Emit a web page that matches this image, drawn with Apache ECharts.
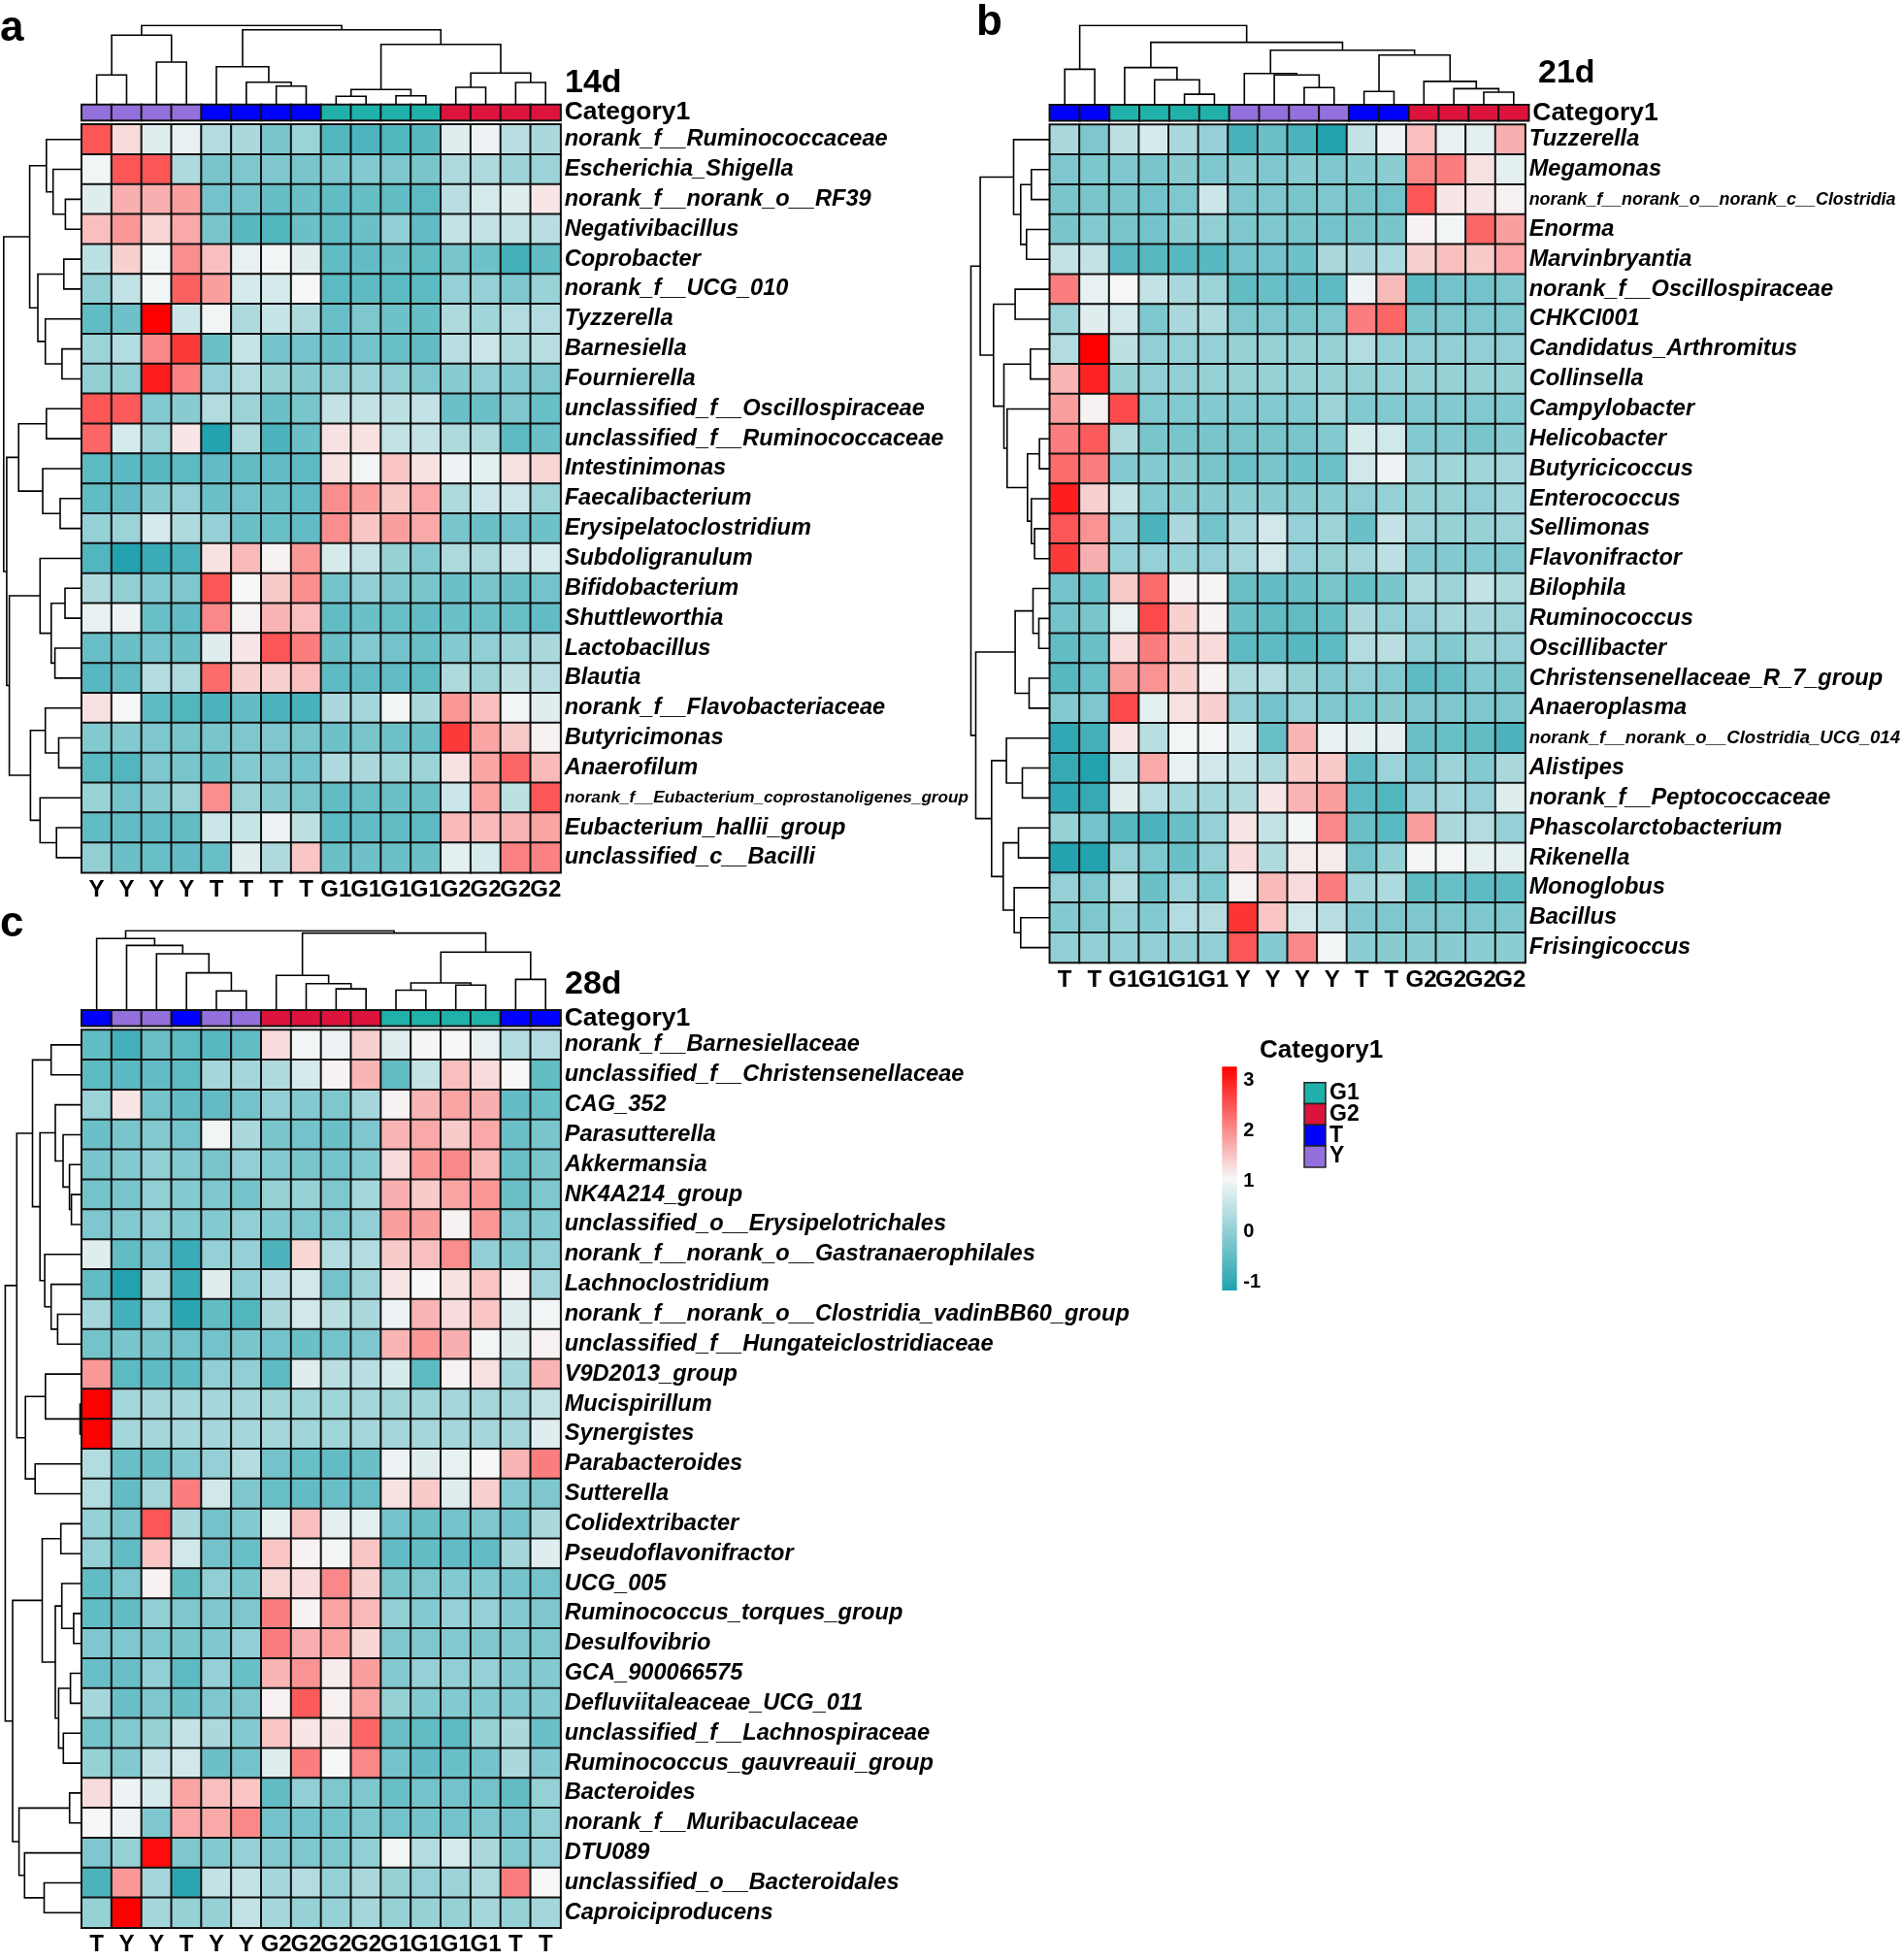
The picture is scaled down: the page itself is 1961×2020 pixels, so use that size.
<!DOCTYPE html>
<html><head><meta charset="utf-8">
<script src="https://cdn.jsdelivr.net/npm/echarts/dist/echarts.min.js"></script>
<style>html,body{margin:0;padding:0;background:#fff}#chart{width:1961px;height:2020px}</style>
</head><body><div id="chart"></div>
<script>
// ================= DATA =================
const CATEGORY_LEVELS = ['G1', 'G2', 'T', 'Y'];
const LEGEND_TICKS = [-1, 0, 1, 2, 3];
const VALUE_MIN = -1.17, VALUE_MAX = 3.27;

// ---- panel a (14d)
const COLS_A = ['Y','Y','Y','Y','T','T','T','T','G1','G1','G1','G1','G2','G2','G2','G2'];
const ROWS_A = ['norank_f__Ruminococcaceae','Escherichia_Shigella','norank_f__norank_o__RF39','Negativibacillus','Coprobacter','norank_f__UCG_010','Tyzzerella','Barnesiella','Fournierella','unclassified_f__Oscillospiraceae','unclassified_f__Ruminococcaceae','Intestinimonas','Faecalibacterium','Erysipelatoclostridium','Subdoligranulum','Bifidobacterium','Shuttleworthia','Lactobacillus','Blautia','norank_f__Flavobacteriaceae','Butyricimonas','Anaerofilum','norank_f__Eubacterium_coprostanoligenes_group','Eubacterium_hallii_group','unclassified_c__Bacilli'];
const VALS_A = [
[2.5,1.3,0.8,0.9,0.35,0.25,-0.25,0.1,-0.65,-0.7,-0.65,-0.6,0.8,0.95,0.4,0.25],
[1.0,2.5,2.5,0.3,-0.25,-0.2,-0.2,-0.25,-0.22,-0.15,-0.2,-0.25,0.3,0.3,0.1,0.1],
[0.8,1.7,1.7,1.85,-0.3,-0.3,-0.45,-0.4,-0.5,-0.45,-0.5,-0.55,0.4,0.7,0.8,1.2],
[1.55,1.9,1.35,1.75,-0.25,-0.6,-0.65,-0.4,-0.5,-0.4,0,-0.48,0.5,0.5,0.5,0.4],
[0.45,1.4,1.0,2.0,1.55,0.9,1.0,0.8,-0.5,-0.48,-0.4,-0.5,-0.25,-0.35,-0.8,-0.5],
[0,0.5,1.0,2.4,1.85,0.7,0.7,1.05,-0.55,-0.53,-0.55,-0.53,0.03,0.03,-0.2,0.08],
[-0.5,-0.35,3.27,0.6,1.0,0.3,0.55,0.3,-0.42,-0.2,-0.35,-0.45,0.3,0.15,0.35,0.35],
[0.1,0.35,2.05,2.75,-0.4,0.55,-0.3,-0.3,-0.42,-0.3,-0.42,-0.48,0.4,0.6,0.3,0.4],
[0,0,3.0,2.1,0.03,0.35,0.05,-0.1,0,0.1,0,-0.2,-0.1,0,-0.15,-0.2],
[2.5,2.45,-0.15,-0.1,0.35,0.1,-0.4,-0.25,0.5,0.5,0.45,0.5,-0.4,-0.4,-0.2,-0.42],
[2.35,0.7,0.1,1.2,-1.15,0.3,-0.72,-0.4,1.25,1.25,0.5,0.5,0.3,0.3,-0.55,-0.4],
[-0.55,-0.57,-0.6,-0.55,-0.48,-0.5,-0.48,-0.53,1.25,1.0,1.5,1.25,0.95,0.85,1.25,1.35],
[-0.5,-0.48,-0.1,0.03,-0.4,-0.3,-0.4,-0.48,2.0,1.85,1.45,1.75,0.3,0.6,0.6,0.1],
[0.03,0.1,0.7,0.3,0.03,-0.4,-0.42,-0.48,2.0,1.5,1.85,1.75,-0.25,-0.4,-0.3,-0.35],
[-0.65,-1.15,-0.9,-0.72,1.25,1.6,1.1,1.9,0.7,0.5,0.05,-0.15,0.3,0.3,0.6,0.7],
[0.3,0,-0.15,-0.2,2.5,1.05,1.45,2.0,-0.3,0,-0.2,-0.25,-0.4,-0.25,-0.4,-0.3],
[0.9,0.95,-0.42,-0.48,2.05,1.1,1.65,1.55,-0.5,-0.4,-0.42,-0.48,-0.4,-0.35,-0.42,-0.48],
[-0.42,-0.4,-0.3,-0.4,0.8,1.2,2.5,2.15,-0.4,-0.15,-0.3,-0.4,-0.15,0,0.1,0.25],
[-0.6,-0.5,0.35,0.3,2.3,1.4,1.4,1.55,-0.53,-0.48,-0.48,-0.53,0.3,0.1,0.45,0.4],
[1.25,1.05,-0.53,-0.65,-0.72,-0.48,-0.72,-0.75,0.25,0.2,1.0,0.25,1.9,1.55,1.0,0.8],
[-0.15,-0.15,-0.2,-0.25,-0.25,-0.2,-0.2,-0.25,-0.35,-0.25,-0.35,-0.4,2.75,1.8,1.45,1.1],
[-0.55,-0.65,-0.2,-0.25,-0.4,-0.15,-0.2,-0.3,0.3,0.25,0.15,0.1,1.25,1.8,2.35,1.6],
[0.08,-0.3,-0.1,0.1,2.0,0.1,-0.1,-0.25,-0.5,-0.42,-0.4,-0.4,0.6,1.8,0.45,2.5],
[-0.5,-0.48,-0.48,-0.5,0.6,0.55,0.95,0.45,-0.53,-0.48,-0.5,-0.53,1.6,1.6,1.65,1.8],
[0,-0.4,-0.42,-0.48,-0.42,0.8,0.3,1.5,-0.4,-0.35,-0.4,-0.4,0.85,0.7,2.1,2.1]
];
// dendrograms: [left, right, height]; leaves are indices
const TREE_A_COLS = [[[0,1,30.7],[2,3,44],71.7],[[4,[5,[6,7,19.3],23.3],39.3],[[[8,9,8.7],[10,11,9.3],15.7],[[12,13,18],[14,15,23],32.7],62.3],77.3],81.7];
const TREE_A_ROWS = [
 [[0,[1,[2,3,16.8],29.5],36.4],[[4,5,18.4],[6,[7,8,20.3],37.5],45.2],53.6],
 [[[9,10,36.4],[11,[12,13,22.2],40.2],65],[[14,[[15,16,17.2],[17,18,27.6],31.4],42.9],[[19,[20,21,23.7],37.5],[22,[23,24,26],42.9],52.8],74.6],77.3],
 80.4];

// ---- panel b (21d)
const COLS_B = ['T','T','G1','G1','G1','G1','Y','Y','Y','Y','T','T','G2','G2','G2','G2'];
const ROWS_B = ['Tuzzerella','Megamonas','norank_f__norank_o__norank_c__Clostridia','Enorma','Marvinbryantia','norank_f__Oscillospiraceae','CHKCI001','Candidatus_Arthromitus','Collinsella','Campylobacter','Helicobacter','Butyricicoccus','Enterococcus','Sellimonas','Flavonifractor','Bilophila','Ruminococcus','Oscillibacter','Christensenellaceae_R_7_group','Anaeroplasma','norank_f__norank_o__Clostridia_UCG_014','Alistipes','norank_f__Peptococcaceae','Phascolarctobacterium','Rikenella','Monoglobus','Bacillus','Frisingicoccus'];
const VALS_B = [
[0.25,-0.2,0.45,0.7,0.25,0.03,-0.75,-0.4,-0.72,-1.15,0.5,0.95,1.55,0.9,0.85,1.7],
[-0.2,-0.22,-0.2,-0.25,-0.1,-0.2,-0.1,-0.2,-0.1,-0.2,-0.1,-0.05,2.05,2.15,1.25,0.85],
[-0.25,-0.25,-0.25,-0.3,-0.2,0.6,-0.2,-0.2,-0.25,-0.2,-0.25,-0.3,2.5,1.2,1.2,1.1],
[-0.25,-0.15,-0.25,-0.3,-0.05,0,-0.2,-0.2,-0.25,-0.3,-0.25,-0.25,1.1,1.0,2.35,1.85],
[0.5,0.5,-0.57,-0.6,-0.6,-0.6,-0.3,-0.3,-0.35,0.25,0.25,0.28,1.4,1.55,1.45,1.75],
[2.15,0.9,1.05,0.5,0.25,0.1,-0.5,-0.42,-0.48,-0.53,0.95,1.6,-0.53,-0.3,-0.3,-0.2],
[0.1,0.8,0.65,-0.2,0.25,0.3,-0.2,-0.2,-0.25,-0.2,2.15,2.35,-0.25,-0.2,-0.2,-0.2],
[0.35,3.27,0.45,0,0.03,0.03,0.05,0.05,0.05,0.05,0.35,0.05,0,0,0,0],
[1.65,2.95,0.05,0,0,0.05,0.05,0.05,0.05,0.05,0.05,0.05,0.05,0.05,0.05,0.05],
[1.85,1.1,2.6,-0.15,-0.15,-0.15,-0.15,-0.15,-0.15,0.1,-0.15,-0.15,-0.15,-0.15,-0.15,-0.15],
[2.15,2.45,0.3,-0.25,-0.25,-0.25,-0.25,-0.25,-0.25,-0.15,0.7,0.65,-0.15,-0.15,-0.25,-0.1],
[2.3,2.15,-0.15,-0.15,-0.1,-0.25,-0.35,-0.25,-0.35,-0.35,0.65,0.95,0.1,0.15,0.15,0.2],
[3.0,1.4,0.5,-0.15,-0.1,-0.1,-0.05,-0.1,-0.1,-0.05,0,0.05,0.05,0.05,0,0.15],
[2.5,1.95,0.03,-0.72,0.25,-0.3,0.2,0.65,0.03,0.1,-0.4,0.5,0.1,0.05,0.05,0.1],
[2.75,1.7,0.03,0.03,0.05,0.03,0.2,0.65,0.03,0.05,0.2,0.45,-0.15,-0.15,-0.15,-0.2],
[-0.3,-0.42,1.45,2.3,1.1,1.08,-0.4,-0.48,-0.4,-0.25,-0.42,-0.25,0.3,0.1,0.5,0.3],
[-0.3,-0.25,0.9,2.6,1.4,1.1,-0.4,-0.5,-0.5,-0.42,0.25,0.03,0.03,0.2,0.2,0.1],
[-0.5,-0.4,1.3,2.15,1.4,1.3,-0.53,-0.53,-0.6,-0.53,0.35,0.4,0,-0.15,0.1,0.03],
[-0.6,-0.42,1.85,1.95,1.4,1.1,0.3,0.35,0.05,-0.15,0,-0.15,-0.53,-0.42,-0.15,-0.25],
[-0.15,-0.2,2.6,0.85,1.25,1.4,0,-0.3,0,-0.2,-0.2,-0.1,-0.2,-0.2,-0.2,-0.2],
[-1.0,-0.8,1.2,0.4,1.0,1.0,0.7,-0.42,1.65,0.9,0.85,0.85,-0.4,-0.42,-0.5,-0.72],
[-0.95,-1.15,0.5,1.75,0.9,0.65,0.5,0.3,1.45,1.45,-0.48,0.1,-0.3,0.1,-0.15,0.25],
[-1.0,-0.95,0.8,0.4,0.2,0.2,0.3,1.2,1.65,1.85,-0.53,-0.65,0.03,0.2,0.03,0.8],
[0.05,-0.3,-0.6,-0.72,-0.42,0.03,1.2,0.5,1.0,2.05,-0.4,-0.57,1.85,0.25,0.35,0.03],
[-1.15,-1.15,0.03,-0.2,-0.4,0.03,1.3,0.3,1.15,1.15,-0.3,0.05,1.02,1.0,0.85,0.85],
[0.03,-0.2,0.35,-0.4,0.1,-0.2,1.1,1.6,1.3,2.15,0.2,0.3,-0.5,-0.42,-0.53,-0.53],
[-0.15,-0.2,0.03,-0.15,0.35,0.35,2.8,1.5,0.65,0.4,-0.15,-0.2,-0.2,-0.2,-0.2,-0.2],
[0,0,0,0,0,0,2.5,-0.15,2.05,1.0,-0.05,-0.1,-0.1,-0.1,-0.05,-0.05]
];
const TREE_B_COLS = [[0,1,36.8],[[2,[3,[4,5,11.1],26],38.6],[[6,[7,[8,9,17.9],31],32.5],[[10,11,13.9],[12,[13,[14,15,13.2],16.8],24.3],51.4],56.4],64.6],82.1];
const TREE_B_ROWS = [
 [[0,[[1,2,19],[3,4,24],30],37.3],[[5,6,35.7],[[7,8,20],[9,[[10,11,10.7],[12,[13,14,15.7],19],23],44],47.3],58],71.7],
 [[[15,[16,17,11.3],17.3],[18,19,21.3],35.7],[[20,[21,22,28.3],44.7],[[23,24,32.3],[25,[26,27,30],36.7],48],60],76.3],
 81.3];

// ---- panel c (28d)
const COLS_C = ['T','Y','Y','T','Y','Y','G2','G2','G2','G2','G1','G1','G1','G1','T','T'];
const ROWS_C = ['norank_f__Barnesiellaceae','unclassified_f__Christensenellaceae','CAG_352','Parasutterella','Akkermansia','NK4A214_group','unclassified_o__Erysipelotrichales','norank_f__norank_o__Gastranaerophilales','Lachnoclostridium','norank_f__norank_o__Clostridia_vadinBB60_group','unclassified_f__Hungateiclostridiaceae','V9D2013_group','Mucispirillum','Synergistes','Parabacteroides','Sutterella','Colidextribacter','Pseudoflavonifractor','UCG_005','Ruminococcus_torques_group','Desulfovibrio','GCA_900066575','Defluviitaleaceae_UCG_011','unclassified_f__Lachnospiraceae','Ruminococcus_gauvreauii_group','Bacteroides','norank_f__Muribaculaceae','DTU089','unclassified_o__Bacteroidales','Caproiciproducens'];
const VALS_C = [
[-0.5,-0.8,-0.4,-0.55,-0.6,-0.5,1.3,1.0,0.95,1.4,0.8,1.02,1.05,0.9,0.35,0.35],
[-0.55,-0.57,-0.48,-0.55,0.2,0.2,0.3,0.7,1.1,1.65,-0.5,0.5,1.55,1.3,1.05,-0.5],
[0.1,1.2,-0.3,-0.48,-0.48,-0.3,0,-0.15,-0.2,0.2,1.1,1.65,1.8,1.7,-0.48,-0.42],
[-0.4,-0.25,-0.15,-0.3,1.0,0.25,-0.25,-0.3,-0.4,-0.2,1.65,1.75,1.45,1.75,-0.4,-0.25],
[-0.25,-0.15,0,-0.15,-0.25,0,-0.15,-0.25,-0.3,-0.15,1.3,1.9,2.05,1.6,-0.4,-0.25],
[-0.3,-0.25,0,-0.15,-0.2,-0.3,0.05,0.05,-0.2,0.2,1.7,1.45,1.8,1.9,-0.4,-0.2],
[-0.2,-0.15,0,-0.15,-0.15,0,-0.15,-0.2,-0.2,0,1.85,1.85,1.1,1.9,-0.2,-0.15],
[0.8,-0.5,-0.2,-0.9,0.03,0.03,-0.72,1.35,0.35,0.35,1.45,1.55,2.0,0,-0.15,0],
[-0.48,-1.15,0.3,-0.9,0.8,0,0.4,0.65,-0.3,0.1,1.2,1.05,1.25,1.5,1.1,0.2],
[0.2,-0.8,0.03,-1.05,-0.5,-0.65,0.25,0.65,0.4,0.25,0.95,1.65,1.3,1.5,0.8,1.0],
[-0.3,-0.25,-0.25,-0.3,-0.3,-0.25,-0.3,-0.4,-0.3,-0.2,1.65,1.9,1.7,1.0,0.8,1.1],
[1.9,-0.55,-0.53,-0.53,0,0,-0.53,0.8,0.4,0.4,0.7,-0.55,1.1,1.25,0.2,1.65],
[3.27,0.2,0.2,0.2,0.2,0.2,0.15,0.15,0.15,0.2,0.15,0.15,0.2,0.2,0.2,0.5],
[3.27,0.2,0.2,0.2,0.2,0.2,0.2,0.15,0.15,0.2,0.2,0.2,0.2,0.2,0.2,0.8],
[0.35,-0.42,-0.4,-0.15,0.03,0.35,-0.3,-0.42,-0.48,-0.4,0.95,0.8,0.9,1.05,1.65,2.15],
[0.35,-0.48,0.2,2.15,0.65,-0.2,-0.42,-0.48,-0.42,-0.42,1.25,1.45,0.8,1.4,-0.15,-0.2],
[0.03,-0.25,2.5,0.25,-0.3,-0.15,0.85,1.55,0.85,0.85,-0.3,-0.4,-0.3,-0.2,-0.3,0.25],
[0.03,-0.5,1.5,0.65,-0.3,-0.42,1.5,1.1,1.02,1.5,-0.48,-0.5,-0.48,-0.48,0.2,0.8],
[-0.5,-0.2,1.1,-0.5,0,-0.25,1.35,1.3,2.05,1.4,-0.25,-0.2,-0.15,-0.15,-0.3,-0.3],
[-0.5,-0.5,0,-0.2,-0.2,-0.2,2.15,1.1,1.8,1.6,0,-0.15,0.03,0.03,-0.15,-0.2],
[-0.2,-0.2,-0.2,-0.25,-0.2,0,2.15,1.7,1.8,1.35,-0.2,-0.2,-0.15,-0.2,-0.2,-0.2],
[-0.42,-0.42,0,-0.55,0.03,-0.42,1.65,1.95,1.15,1.85,-0.15,0.03,0,0.03,-0.15,-0.15],
[0.2,-0.42,-0.2,-0.4,-0.2,-0.2,1.1,2.45,1.1,1.8,0.05,-0.15,-0.15,-0.15,-0.15,-0.15],
[-0.3,-0.15,0.05,0.5,0.25,-0.15,1.5,1.2,1.2,2.35,-0.4,-0.5,-0.53,0.05,0.25,-0.4],
[0.05,-0.15,0.5,0.65,-0.4,-0.3,0.8,2.15,1.05,2.05,-0.3,-0.48,-0.42,-0.3,0.25,-0.15],
[1.3,0.95,0.7,1.8,1.55,1.5,-0.5,0,-0.2,-0.2,-0.42,-0.3,-0.3,-0.3,-0.5,0.03],
[1.05,0.95,-0.2,1.75,1.75,2.05,-0.3,-0.3,-0.3,-0.2,-0.3,-0.3,-0.3,-0.2,-0.3,0],
[-0.2,0.05,3.15,-0.2,-0.15,0.03,-0.15,-0.2,-0.2,0,1.0,0.35,0.7,0.25,-0.15,0.03],
[-0.72,1.9,0.2,-1.05,0.5,0.5,0.2,0.35,0.05,0.25,0.05,0.03,0.1,0.3,2.15,1.05],
[0.05,3.27,0.2,0.05,0.05,0.5,0.2,0.05,0.05,0.2,0.05,0.05,0.05,0.2,0.05,0.2]
];
const TREE_C_COLS = [[0,[1,[2,[3,[4,5,20],38.6],58.2],66.8],73.9],[[6,[7,[8,9,22.1],27.5],36],[[[10,11,20.7],[12,13,26],28.2],[14,15,31.8],60],79.6],82.1];
const TREE_C_ROWS = [
 [[[0,1,31.5],[[2,[3,[4,[5,6,10.6],12.6],19.2],27.2],[7,[8,[9,10,24.8],31.5],38.1],43],50.7],[[11,[12,13,1.7],37.4],[14,15,48],58],66.9],
 [[[16,17,21.5],[[18,[19,20,8.3],20.5],[[21,22,11.6],[23,24,18.9],23.8],27.2],40.7],[[25,26,12.5],[27,[28,29,38.7],58.9],64.6],71.2],
 78.8];

// ================= STYLE / LAYOUT =================
const FONT = "'Liberation Sans', Arial, Helvetica, sans-serif";
const CAT_COLORS = {G1:'#20B2AA', G2:'#DC143C', T:'#0000FF', Y:'#9370DB'};
const RAMP = ['#20A2AE', '#F7F7F7', '#FF0000'];
const LABEL_SIZE = 23.6;
const SMALL_LABEL_SIZES = {
  'norank_f__Eubacterium_coprostanoligenes_group': 17.2,
  'norank_f__norank_o__norank_c__Clostridia': 17.9,
  'norank_f__norank_o__Clostridia_UCG_014': 18.6
};
const CELL = 30.84;
const TREE_SPAN = 82;

const PANELS = [
  {rows:ROWS_A, cols:COLS_A, vals:VALS_A, colTree:TREE_A_COLS, rowTree:TREE_A_ROWS, left:84.2, top:128.3,
   title:'14d', titleX:582, titleY:85.5, letter:'a', letterX:0, letterY:30},
  {rows:ROWS_B, cols:COLS_B, vals:VALS_B, colTree:TREE_B_COLS, rowTree:TREE_B_ROWS, left:1081.8, top:128.5,
   title:'21d', titleX:1585, titleY:75.5, letter:'b', letterX:1006, letterY:24},
  {rows:ROWS_C, cols:COLS_C, vals:VALS_C, colTree:TREE_C_COLS, rowTree:TREE_C_ROWS, left:84.2, top:1061.5,
   title:'28d', titleX:582, titleY:1014.5, letter:'c', letterX:0, letterY:953}
];

function treeSegments(tree) {
  const segs = [];
  (function walk(node) {
    if (typeof node === 'number') return [node, 0];
    const a = walk(node[0]), b = walk(node[1]), h = node[2];
    segs.push([a, b, h]);
    return [(a[0] + b[0]) / 2, h];
  })(tree);
  return segs;
}

const grids = [], xAxes = [], yAxes = [], series = [], mainSeries = [];
const hidden = {show:false};
const richStyles = {n:{fontFamily:FONT, fontWeight:'bold', fontStyle:'italic', fontSize:LABEL_SIZE, color:'#000'}};
const smallKeys = {};
Object.keys(SMALL_LABEL_SIZES).forEach((name, i) => {
  smallKeys[name] = 's' + i;
  richStyles['s' + i] = {fontFamily:FONT, fontWeight:'bold', fontStyle:'italic', fontSize:SMALL_LABEL_SIZES[name], color:'#000'};
});

PANELS.forEach(p => {
  const nR = p.rows.length, nC = p.cols.length;
  const W = nC * CELL, H = nR * CELL;
  const barTop = p.top - 20.3;
  // main heatmap
  let g = grids.length;
  grids.push({left:p.left, top:p.top, width:W, height:H});
  xAxes.push({type:'category', gridIndex:g, data:p.cols.map((c,i)=>String(i)),
    axisLine:hidden, axisTick:hidden, splitLine:hidden,
    axisLabel:{interval:0, margin:6, color:'#000', fontFamily:FONT, fontWeight:'bold', fontSize:24,
      formatter:(v,i)=>p.cols[i]}});
  yAxes.push({type:'category', gridIndex:g, data:p.rows, inverse:true, position:'right',
    axisLine:hidden, axisTick:hidden, splitLine:hidden,
    axisLabel:{interval:0, margin:4, color:'#000',
      formatter:v => '{' + (smallKeys[v] || 'n') + '|' + v + '}',
      rich:richStyles}});
  const data = [];
  p.vals.forEach((row, r) => row.forEach((v, c) => data.push([c, r, v])));
  mainSeries.push(series.length);
  series.push({type:'heatmap', xAxisIndex:g, yAxisIndex:g, data, silent:true, animation:false,
    itemStyle:{borderColor:'#111', borderWidth:2}, emphasis:{disabled:true}});
  // annotation bar
  g = grids.length;
  grids.push({left:p.left, top:barTop, width:W, height:16});
  xAxes.push({type:'category', gridIndex:g, data:p.cols.map((c,i)=>String(i)), show:false});
  yAxes.push({type:'category', gridIndex:g, data:['Category1'], position:'right',
    axisLine:hidden, axisTick:hidden, splitLine:hidden,
    axisLabel:{margin:4, color:'#000', fontFamily:FONT, fontWeight:'bold', fontSize:26.5}});
  series.push({type:'heatmap', xAxisIndex:g, yAxisIndex:g, silent:true, animation:false,
    data:p.cols.map((c,i)=>({value:[i,0,0], itemStyle:{color:CAT_COLORS[c]}})),
    itemStyle:{borderColor:'#111', borderWidth:2}, emphasis:{disabled:true}});
  // top dendrogram
  g = grids.length;
  grids.push({left:p.left, top:barTop - TREE_SPAN, width:W, height:TREE_SPAN});
  xAxes.push({type:'value', gridIndex:g, min:-0.5, max:nC - 0.5, show:false});
  yAxes.push({type:'value', gridIndex:g, min:0, max:TREE_SPAN, show:false});
  series.push({type:'lines', coordinateSystem:'cartesian2d', xAxisIndex:g, yAxisIndex:g, polyline:true,
    silent:true, animation:false, lineStyle:{color:'#000', width:1.6, opacity:1},
    data:treeSegments(p.colTree).map(([a,b,h]) => ({coords:[[a[0],a[1]],[a[0],h],[b[0],h],[b[0],b[1]]]}))});
  // left dendrogram
  g = grids.length;
  grids.push({left:p.left - TREE_SPAN, top:p.top, width:TREE_SPAN, height:H});
  xAxes.push({type:'value', gridIndex:g, min:0, max:TREE_SPAN, inverse:true, show:false});
  yAxes.push({type:'value', gridIndex:g, min:-0.5, max:nR - 0.5, inverse:true, show:false});
  series.push({type:'lines', coordinateSystem:'cartesian2d', xAxisIndex:g, yAxisIndex:g, polyline:true,
    silent:true, animation:false, lineStyle:{color:'#000', width:1.6, opacity:1},
    data:treeSegments(p.rowTree).map(([a,b,h]) => ({coords:[[a[1],a[0]],[h,a[0]],[h,b[0]],[b[1],b[0]]]}))});
});

// graphics: titles, panel letters, legends
const graphics = [];
const txt = (text, x, y, size, align) => ({type:'text', x, y, silent:true,
  style:{text, fill:'#000', font:'bold ' + size + 'px ' + FONT, textAlign:align || 'left', textVerticalAlign:'middle', verticalAlign:'middle'}});
PANELS.forEach(p => {
  graphics.push(txt(p.title, p.titleX, p.titleY, 34));
  graphics.push(txt(p.letter, p.letterX, p.letterY, 44));
});
// colour bar legend
const CB = {x:1259.3, y:1099.3, w:15.4, h:230.7};
graphics.push({type:'rect', silent:true, shape:{x:CB.x, y:CB.y, width:CB.w, height:CB.h},
  style:{fill:new echarts.graphic.LinearGradient(0,0,0,1,[{offset:0,color:RAMP[2]},{offset:0.5,color:RAMP[1]},{offset:1,color:RAMP[0]}])}});
LEGEND_TICKS.forEach(t => {
  const y = CB.y + (VALUE_MAX - t) / (VALUE_MAX - VALUE_MIN) * CB.h;
  graphics.push(txt(String(t), CB.x + 22, y, 20));
});
graphics.push(txt('Category1', 1298, 1083, 26));
CATEGORY_LEVELS.forEach((c, i) => {
  graphics.push({type:'rect', silent:true, shape:{x:1344, y:1115.7 + 21.8 * i, width:22, height:21.8},
    style:{fill:CAT_COLORS[c], stroke:'#222', lineWidth:1.5}});
  graphics.push(txt(c, 1370, 1126.6 + 21.8 * i, 23));
});

const chart = echarts.init(document.getElementById('chart'), null, {renderer:'canvas', width:1961, height:2020});
chart.setOption({
  backgroundColor:'#ffffff',
  animation:false,
  grid:grids, xAxis:xAxes, yAxis:yAxes,
  visualMap:{type:'continuous', show:false, min:VALUE_MIN, max:VALUE_MAX, dimension:2,
    seriesIndex:mainSeries, inRange:{color:RAMP}},
  series,
  graphic:{elements:graphics}
});
</script>
</body></html>
